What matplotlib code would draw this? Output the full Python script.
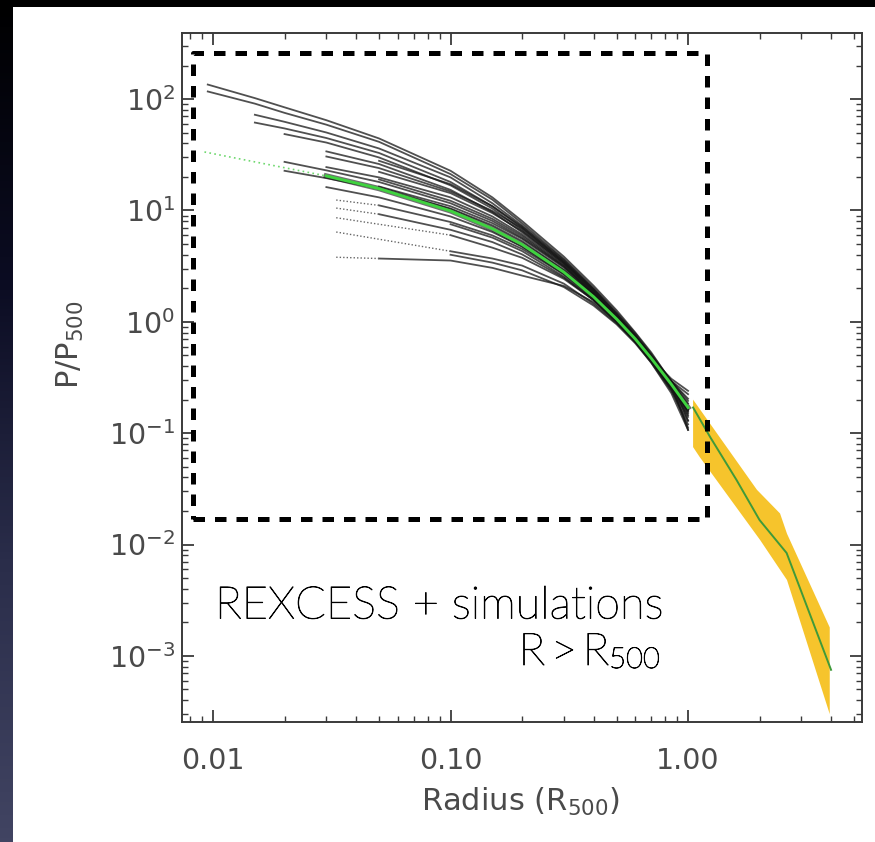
import numpy as np
import matplotlib.pyplot as plt
import matplotlib.patheffects as pe
from matplotlib.colors import LinearSegmentedColormap
from matplotlib.patches import Rectangle
from matplotlib.ticker import FixedLocator, FixedFormatter, LogLocator, NullFormatter

plt.rcParams['font.family'] = ['DejaVu Sans']
plt.rcParams['mathtext.fontset'] = 'dejavusans'

nan = np.nan

# REXCESS scaled pressure profiles (R in R500, P in P500)
radius_grid = [0.0095, 0.015, 0.02, 0.03, 0.05, 0.1, 0.15, 0.2, 0.3, 0.4, 0.5, 0.6, 0.7, 0.85, 1.0]
rexcess_profiles = [
    [135, 102, 84.3, 64.6, 44.3, 22.7, 13.1, 8.04, 3.85, 2.11, 1.27, 0.80, 0.53, 0.29, 0.13],
    [117, 91.0, 75.2, 58.9, 41.3, 21.2, 12.5, 7.67, 3.68, 2.02, 1.22, 0.785, 0.515, 0.294, 0.195],
    [nan, 72.3, 62.5, 50.1, 36.0, 19.8, 11.6, 7.33, 3.60, 1.97, 1.19, 0.75, 0.49, 0.275, 0.107],
    [nan, 61.5, 54.5, 44.7, 32.8, 18.0, 10.9, 7.0, 3.44, 1.93, 1.16, 0.75, 0.49, 0.288, 0.17],
    [nan, nan, 48.5, 40.7, 29.9, 16.8, 10.4, 6.68, 3.36, 1.88, 1.14, 0.733, 0.481, 0.262, nan],
    [nan, nan, nan, 33.9, 26.1, 15.3, 9.68, 6.38, 3.28, 1.84, 1.11, 0.716, 0.47, 0.262, 0.155],
    [nan, nan, 27.3, 22.9, 18.0, 11.6, 8.05, 5.69, 3.13, 1.80, 1.11, 0.716, 0.47, 0.269, 0.158],
    [nan, nan, 22.7, 19.5, 15.7, 10.4, 7.35, 5.31, 2.92, 1.72, 1.06, 0.70, 0.47, 0.294, 0.224],
    [nan, nan, nan, 24.5, 19.8, 13.1, 8.83, 6.10, 3.21, 1.80, 1.08, 0.70, 0.459, 0.256, 0.112],
    [nan, nan, nan, nan, 22.2, 14.3, 9.46, 6.53, 3.36, 1.88, 1.14, 0.733, 0.481, 0.275, 0.162],
    [nan, nan, nan, nan, 16.4, 10.9, 7.69, 5.56, 3.06, 1.76, 1.08, 0.70, 0.449, 0.245, 0.129],
    [nan, nan, nan, nan, 11.1, 7.87, 5.97, 4.52, 2.67, 1.64, 1.06, 0.70, 0.47, 0.308, 0.24],
    [nan, nan, nan, nan, 9.25, 6.70, 5.20, 4.03, 2.49, 1.57, 1.01, 0.684, 0.47, 0.275, 0.162],
    [nan, nan, nan, nan, nan, 6.0, 4.63, 3.76, 2.43, 1.57, 1.01, 0.668, 0.449, 0.256, 0.145],
    [nan, nan, nan, nan, nan, 4.3, 3.7, 3.2, 2.2, 1.45, 0.97, 0.66, 0.45, 0.25, nan],
    [nan, nan, nan, nan, 3.7, 3.55, 3.05, 2.6, 2.1, 1.5, 1.0, 0.66, 0.44, 0.25, 0.14],
    [nan, nan, nan, nan, nan, 4.0, 3.4, 2.9, 2.05, 1.4, 0.95, 0.64, 0.43, 0.24, 0.12],
    [nan, nan, nan, 16.2, 13.1, 8.83, 6.40, 4.73, 2.73, 1.68, 1.08, 0.716, 0.481, 0.294, 0.204],
    [nan, nan, nan, nan, 27.9, 17.2, 10.9, 7.16, 3.52, 1.93, 1.16, 0.75, 0.492, 0.281, 0.17],
    [nan, nan, nan, nan, nan, 7.52, 5.70, 4.32, 2.55, 1.57, 0.989, 0.653, 0.429, 0.229, 0.107],
    [nan, nan, nan, 30.5, 24.0, 14.8, 9.9, 6.9, 3.45, 1.95, 1.18, 0.76, 0.50, 0.285, 0.185],
    [nan, nan, nan, nan, 19.0, 12.2, 8.4, 5.9, 3.15, 1.78, 1.09, 0.71, 0.465, 0.27, 0.15],
]

# dotted inner extrapolations of the profiles without central data
inner_r_start = [0.033, 0.033, 0.033, 0.033, 0.033]
inner_r_end = [0.05, 0.05, 0.1, 0.1, 0.05]
inner_p_start = [12.4, 10.5, 8.6, 6.4, 3.8]
inner_p_end = [11.1, 9.25, 6.0, 4.3, 3.7]

# universal profile (green)
universal_r = [0.03, 0.05, 0.1, 0.15, 0.2, 0.3, 0.4, 0.5, 0.6, 0.7, 0.85, 1.0]
universal_p = [20.4, 15.7, 9.9, 6.85, 4.95, 2.79, 1.68, 1.06, 0.70, 0.47, 0.275, 0.17]
universal_inner_r = [0.0092, 0.03]
universal_inner_p = [33.5, 20.4]

# simulations beyond R500: median and dispersion
sim_r = [1.05, 1.24, 1.6, 2.0, 2.6, 4.0]
sim_p = [0.17, 0.092, 0.038, 0.0166, 0.0084, 7.5e-4]
band_upper_r = [1.05, 1.95, 2.44, 2.61, 3.95]
band_upper_p = [0.2, 0.031, 0.019, 0.0125, 0.0018]
band_lower_r = [1.05, 1.12, 2.01, 2.61, 3.95]
band_lower_p = [0.075, 0.061, 0.011, 0.0048, 3.0e-4]

# dashed box around the R < R500 region
box_r = [0.0082, 1.2]
box_p = [0.017, 260]

x_ticks = [0.01, 0.1, 1.0]
x_tick_labels = ['0.01', '0.10', '1.00']
y_ticks = [1e-3, 1e-2, 1e-1, 1e0, 1e1, 1e2]
y_tick_labels = ['$10^{-3}$', '$10^{-2}$', '$10^{-1}$', '$10^{0}$', '$10^{1}$', '$10^{2}$']

W, H = 875, 842
fig = plt.figure(figsize=(W / 100, H / 100), dpi=100, facecolor='black')

# slide background: dark gradient strip on the left, white panel
strip_cmap = LinearSegmentedColormap.from_list('slide', ['#000000', '#0b0c22', '#2a2d4a', '#414462'])
strip = strip_cmap(np.linspace(0, 1, H))[:, None, :3] * np.ones((1, 13, 1))
fig.figimage(strip, xo=0, yo=0, origin='upper', zorder=0)
fig.add_artist(Rectangle((13 / W, 0), 1, (H - 7) / H, transform=fig.transFigure,
                         facecolor='white', edgecolor='none', zorder=1))

ax = fig.add_axes([182 / W, 1 - 722 / H, 680 / W, 689 / H], zorder=2)
ax.set_xscale('log')
ax.set_yscale('log')

band_r = band_upper_r + band_lower_r[::-1]
band_p = band_upper_p + band_lower_p[::-1]
ax.fill(band_r, band_p, color='#f6c42c', lw=0, zorder=1)
ax.plot(sim_r, sim_p, color='#3f9a3a', lw=1.4, zorder=3)

for prof in rexcess_profiles:
    ax.plot(radius_grid, prof, color='#161616', lw=1.3, alpha=0.75, zorder=2)
for r0, r1, p0, p1 in zip(inner_r_start, inner_r_end, inner_p_start, inner_p_end):
    ax.plot([r0, r1], [p0, p1], color='#666666', lw=1.0, ls=(0, (1, 1.5)), zorder=2)

ax.plot(universal_inner_r, universal_inner_p, color='#6fd86f', lw=1.2, ls=(0, (1, 2)), zorder=4)
ax.plot(universal_r, universal_p, color='#111111', lw=3.8, alpha=0.6, zorder=3)
ax.plot(universal_r, universal_p, color='#3fd23f', lw=2.1, zorder=4)

ax.plot([box_r[0], box_r[1], box_r[1], box_r[0], box_r[0]],
        [box_p[0], box_p[0], box_p[1], box_p[1], box_p[0]],
        color='black', lw=3.6, ls=(0, (2.3, 2.0)), clip_on=False, zorder=5)

ax.set_xlim(0.0074, 5.4)
ax.set_ylim(2.55e-4, 392)
ax.xaxis.set_major_locator(FixedLocator(x_ticks))
ax.xaxis.set_major_formatter(FixedFormatter(x_tick_labels))
ax.xaxis.set_minor_locator(LogLocator(base=10, subs=range(2, 10), numticks=20))
ax.xaxis.set_minor_formatter(NullFormatter())
ax.yaxis.set_major_locator(FixedLocator(y_ticks))
ax.yaxis.set_major_formatter(FixedFormatter(y_tick_labels))
ax.yaxis.set_minor_locator(LogLocator(base=10, subs=range(2, 10), numticks=20))
ax.yaxis.set_minor_formatter(NullFormatter())

ax.tick_params(which='both', direction='in', top=True, right=True, color='#3a3a3a',
               labelcolor='#4a4a4a', labelsize=20.5)
ax.tick_params(which='major', length=8.6, width=1.3)
ax.tick_params(which='minor', length=4.5, width=1.0)
ax.tick_params(axis='x', which='major', pad=18)
ax.tick_params(axis='y', which='major', pad=5)
for s in ax.spines.values():
    s.set_color('#3a3a3a')
    s.set_linewidth(1.4)

ax.set_xlabel('Radius (R$_{500}$)', fontsize=22, color='#4a4a4a', va='center')
ax.xaxis.set_label_coords((520 - 182) / 680, -(802 - 722) / 689)
ax.set_ylabel('P/P$_{500}$', fontsize=22, color='#4a4a4a', va='center')
ax.yaxis.set_label_coords((70 - 182) / 680, (722 - 345) / 689)

txt_font = ['Lato', 'DejaVu Sans']
halo = [pe.withStroke(linewidth=0.6, foreground='black')]
fig.text(215 / W, 1 - 606 / H, 'REXCESS + simulations', fontsize=32.5, family=txt_font,
         fontweight='light', color='black', ha='left', va='center', path_effects=halo, zorder=3)
sub = fig.text(660 / W, 1 - 668 / H, '500', fontsize=21, family=txt_font,
               fontweight='light', color='black', ha='right', va='baseline', path_effects=halo, zorder=3)
ax.annotate('R\u2009>\u2009R', xy=(0, 0), xycoords=sub, fontsize=32.5, family=txt_font,
            fontweight='light', color='black', ha='right', va='bottom',
            annotation_clip=False, path_effects=halo)

fig.savefig('out.png', dpi=100, facecolor='black')
